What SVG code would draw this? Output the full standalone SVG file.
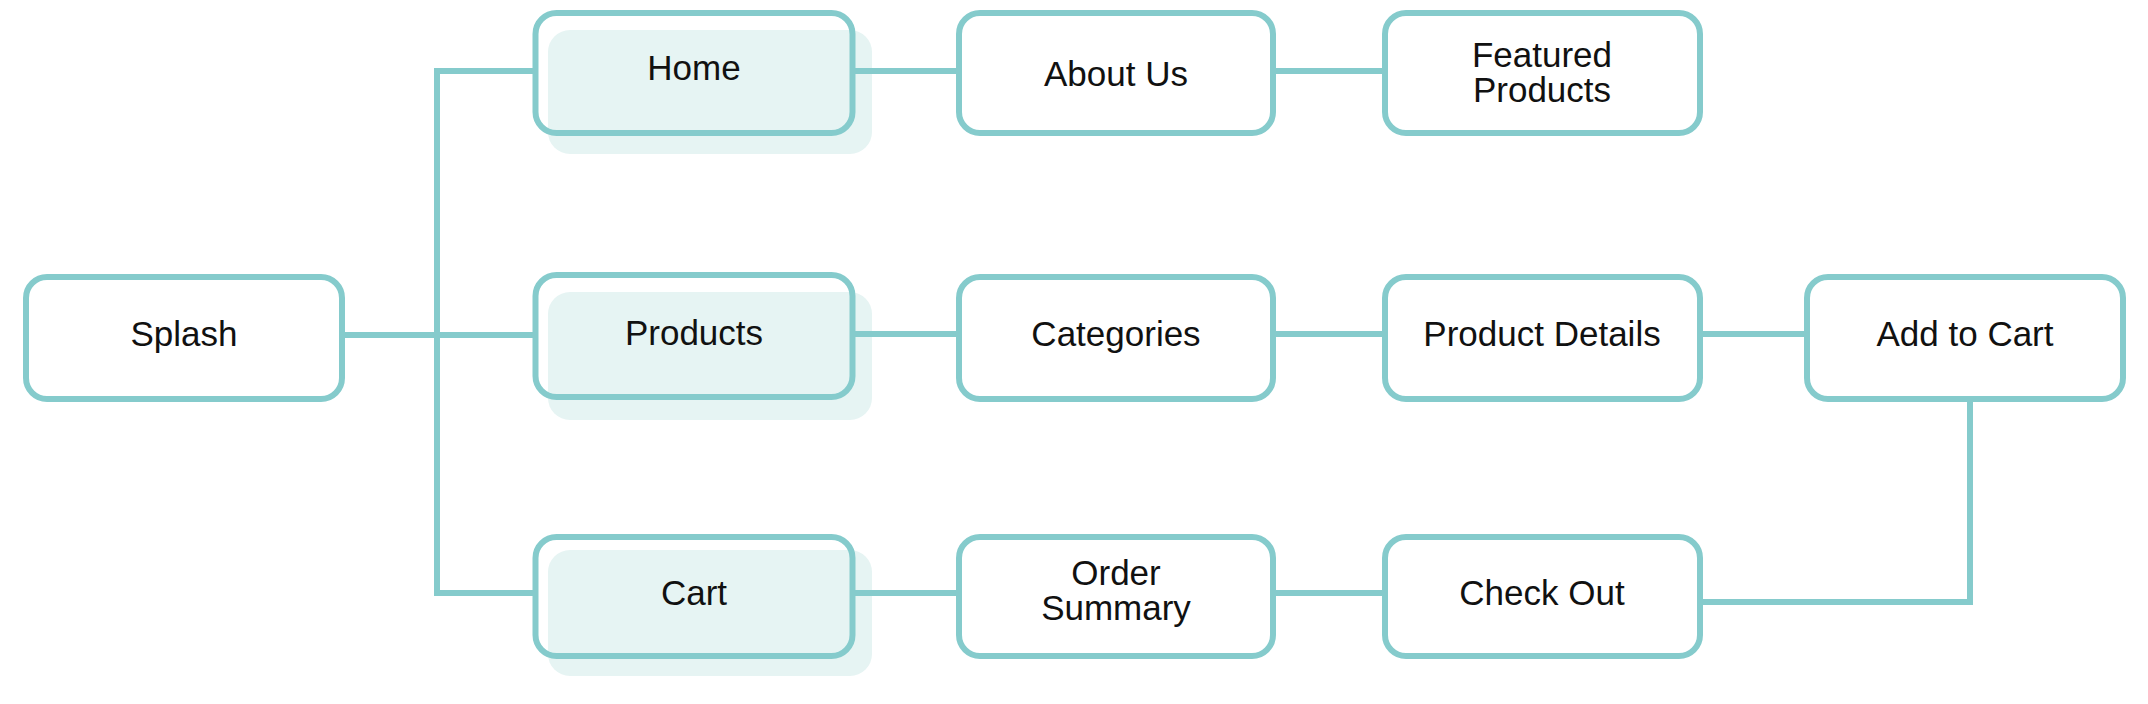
<svg xmlns="http://www.w3.org/2000/svg" width="2148" height="704" viewBox="0 0 2148 704">
<style>
.box{fill:none;stroke:#85cbcc;stroke-width:6}
.sh{fill:#e6f4f3}
.lbl{font-family:"Liberation Sans",Arial,sans-serif;font-size:35px;fill:#111;text-anchor:middle}
.conn{fill:none;stroke:#85cbcc;stroke-width:6;stroke-linejoin:miter}
</style>
<rect width="2148" height="704" fill="#ffffff"/>
<g id="splash"><rect class="box" x="26" y="277" width="316" height="122" rx="21"/><text class="lbl" x="184" y="346">Splash</text></g>
<g id="home"><rect class="sh" x="548" y="30" width="324" height="124" rx="22"/><rect class="box" x="535.5" y="13" width="317" height="120" rx="21"/><text class="lbl" x="694" y="80">Home</text></g>
<g id="products"><rect class="sh" x="548" y="292" width="324" height="128" rx="22"/><rect class="box" x="535.5" y="275" width="317" height="122" rx="21"/><text class="lbl" x="694" y="345">Products</text></g>
<g id="cart"><rect class="sh" x="548" y="550" width="324" height="126" rx="22"/><rect class="box" x="535.5" y="537" width="317" height="119" rx="21"/><text class="lbl" x="694" y="605">Cart</text></g>
<g id="about-us"><rect class="box" x="959" y="13" width="314" height="120" rx="21"/><text class="lbl" x="1116" y="86">About Us</text></g>
<g id="featured-products"><rect class="box" x="1385" y="13" width="315" height="120" rx="21"/><text class="lbl" x="1542" y="67">Featured</text><text class="lbl" x="1542" y="102">Products</text></g>
<g id="categories"><rect class="box" x="959" y="277" width="314" height="122" rx="21"/><text class="lbl" x="1116" y="346">Categories</text></g>
<g id="product-details"><rect class="box" x="1385" y="277" width="315" height="122" rx="21"/><text class="lbl" x="1542" y="346">Product Details</text></g>
<g id="add-to-cart"><rect class="box" x="1807" y="277" width="316" height="122" rx="21"/><text class="lbl" x="1965" y="346">Add to Cart</text></g>
<g id="order-summary"><rect class="box" x="959" y="537" width="314" height="119" rx="21"/><text class="lbl" x="1116" y="585">Order</text><text class="lbl" x="1116" y="620">Summary</text></g>
<g id="check-out"><rect class="box" x="1385" y="537" width="315" height="119" rx="21"/><text class="lbl" x="1542" y="605">Check Out</text></g>
<g id="connectors" class="conn">
<path d="M535,71 H437 V593 H535 M345,335 H535"/>
<path d="M855,71 H959 M855,334 H959 M855,593 H959"/>
<path d="M1276,71 H1385 M1276,334 H1385 M1276,593 H1385"/>
<path d="M1703,334 H1807"/>
<path d="M1970,402 V602 H1703"/>
</g>
</svg>
